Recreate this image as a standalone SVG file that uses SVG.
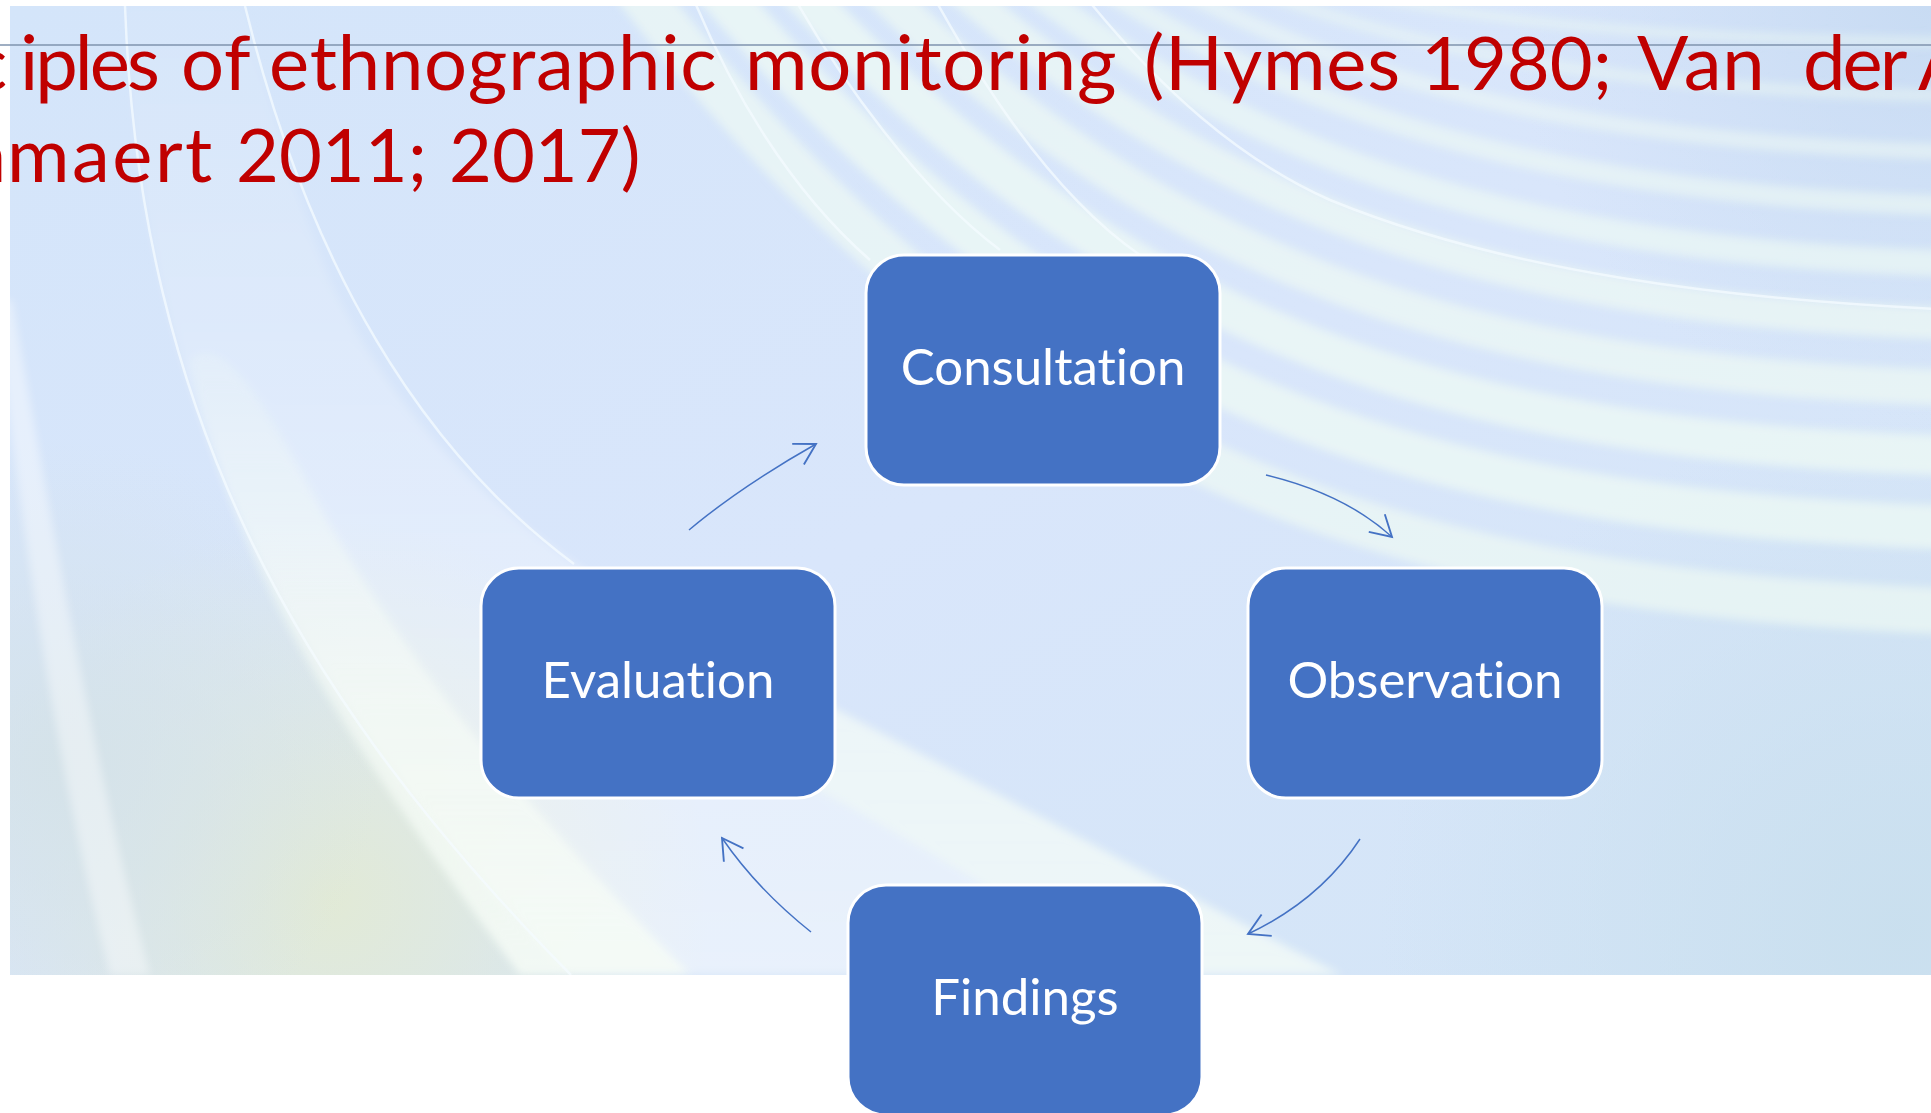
<svg xmlns="http://www.w3.org/2000/svg" width="1931" height="1113" viewBox="0 0 1931 1113">
  <defs>
    <style>
      text { font-variant-ligatures: none; font-feature-settings: "liga" 0, "clig" 0; }
      .title { font-family: Lato, "Open Sans", "Liberation Sans", sans-serif; font-size: 76px; letter-spacing: 0.8px; fill: #C00000; }
      .num { font-size: 74px; letter-spacing: 0px; }
      .tight { letter-spacing: -3px; }
      .node rect { fill: #4472C4; stroke: #FFFFFF; stroke-width: 3; }
      .node text { font-family: Lato, "Open Sans", "Liberation Sans", sans-serif; font-size: 51px; fill: #FFFFFF; text-anchor: middle; }
      .conn path { fill: none; stroke: #4472C4; stroke-width: 1.5; marker-end: url(#arrow); }
      .band { fill: none; stroke: #EEFAF4; stroke-linecap: round; }
      .thin { fill: none; stroke: #F4FBFF; stroke-width: 2.5; opacity: 0.75; }
    </style>
    <marker id="arrow" markerUnits="userSpaceOnUse" markerWidth="30" markerHeight="30" viewBox="-20 -12 22 24" refX="0" refY="0" orient="auto">
      <path d="M-16.5,-9.5 L0,0 L-16.5,9.5" fill="none" stroke="#4472C4" stroke-width="1.5"/>
    </marker>
    <linearGradient id="bgBase" x1="0" y1="0" x2="1" y2="1">
      <stop offset="0" stop-color="#D4E5FA"/>
      <stop offset="0.5" stop-color="#D9E6FB"/>
      <stop offset="1" stop-color="#D3E5F6"/>
    </linearGradient>
    <radialGradient id="greenGlow" cx="330" cy="900" r="380" gradientUnits="userSpaceOnUse">
      <stop offset="0" stop-color="#E2EAD4" stop-opacity="0.95"/>
      <stop offset="1" stop-color="#E2EAD4" stop-opacity="0"/>
    </radialGradient>
    <radialGradient id="greyGlow" cx="60" cy="760" r="320" gradientUnits="userSpaceOnUse">
      <stop offset="0" stop-color="#D4E2E8" stop-opacity="0.9"/>
      <stop offset="1" stop-color="#D4E2E8" stop-opacity="0"/>
    </radialGradient>
    <radialGradient id="rightGlow" cx="1900" cy="930" r="520" gradientUnits="userSpaceOnUse">
      <stop offset="0" stop-color="#C9DFEE" stop-opacity="0.95"/>
      <stop offset="1" stop-color="#C9DFEE" stop-opacity="0"/>
    </radialGradient>
    <radialGradient id="cornerGlow" cx="1931" cy="0" r="420" gradientUnits="userSpaceOnUse">
      <stop offset="0" stop-color="#C6DAF2" stop-opacity="0.9"/>
      <stop offset="1" stop-color="#C6DAF2" stop-opacity="0"/>
    </radialGradient>
    <linearGradient id="swooshFade" x1="0" y1="0" x2="0" y2="1">
      <stop offset="0" stop-color="#FFFFFF" stop-opacity="0.05"/>
      <stop offset="0.6" stop-color="#FFFFFF" stop-opacity="0.3"/>
      <stop offset="1" stop-color="#FFFFFF" stop-opacity="0.45"/>
    </linearGradient>
    <linearGradient id="stripFade" x1="0" y1="0" x2="0" y2="1">
      <stop offset="0" stop-color="#F6FCF6" stop-opacity="0.2"/>
      <stop offset="0.5" stop-color="#F6FCF6" stop-opacity="0.6"/>
      <stop offset="1" stop-color="#F6FCF6" stop-opacity="0.85"/>
    </linearGradient>
    <filter id="soft" x="-5%" y="-5%" width="110%" height="110%">
      <feGaussianBlur stdDeviation="4"/>
    </filter>
    <clipPath id="bgClip">
      <rect x="10" y="6" width="1921" height="969"/>
    </clipPath>
  </defs>

  <!-- page -->
  <rect width="1931" height="1113" fill="#FFFFFF"/>

  <!-- slide background -->
  <g id="background" clip-path="url(#bgClip)">
    <rect x="10" y="6" width="1921" height="969" fill="url(#bgBase)"/>
    <rect x="10" y="6" width="1921" height="969" fill="url(#greenGlow)"/>
    <rect x="10" y="6" width="1921" height="969" fill="url(#greyGlow)"/>
    <rect x="10" y="6" width="1921" height="969" fill="url(#rightGlow)"/>
    <rect x="10" y="6" width="1921" height="969" fill="url(#cornerGlow)"/>

    <g filter="url(#soft)">
      <!-- broad swoosh on the left -->
      <path d="M125,6 C140,420 300,700 571,975 L1342,975 C1100,850 900,740 700,640 C560,560 420,470 330,280 C290,180 265,90 245,6 Z" fill="url(#swooshFade)"/>
      <!-- bright strip along the inner edge -->
      <path d="M190,360 C230,560 330,720 520,975 L690,975 C520,800 400,660 300,470 C260,400 220,330 190,360 Z" fill="url(#stripFade)"/>
      <!-- lower band running under the nodes -->
      <path d="M700,640 C900,740 1100,850 1342,975 L1130,975 C980,880 860,810 760,760 Z" fill="#F2FBF4" opacity="0.55"/>
      <!-- narrow strip at the far left -->
      <path d="M-5,300 C25,560 60,780 110,975 L150,975 C98,780 58,560 12,300 Z" fill="#FFFFFF" opacity="0.4"/>

      <!-- fan of bands, upper right -->
      <path class="band" d="M1300,-20 C1490,30 1730,40 1960,42" stroke-width="10" opacity="0.5"/>
      <path class="band" d="M1230,-20 C1450,70 1710,92 1960,96" stroke-width="12" opacity="0.5"/>
      <path class="band" d="M1160,-20 C1400,110 1680,146 1960,152" stroke-width="16" opacity="0.55"/>
      <path class="band" d="M1090,-20 C1350,150 1650,198 1960,206" stroke-width="20" opacity="0.6"/>
      <path class="band" d="M1020,-20 C1300,200 1620,254 1960,264" stroke-width="26" opacity="0.65"/>
      <path class="band" d="M950,-20 C1250,250 1590,312 1960,324" stroke-width="32" opacity="0.7"/>
      <path class="band" d="M870,-20 C1200,310 1560,376 1960,388" stroke-width="36" opacity="0.7"/>
      <path class="band" d="M790,-20 C1150,370 1520,442 1960,456" stroke-width="40" opacity="0.75"/>
      <path class="band" d="M710,-20 C1090,430 1480,512 1960,528" stroke-width="44" opacity="0.75"/>
      <path class="band" d="M630,-20 C1030,500 1440,590 1960,612" stroke-width="46" opacity="0.7"/>
    </g>

    <!-- crisp highlight edges -->
    <path class="thin" d="M125,6 C140,420 300,700 571,975"/>
    <path class="thin" d="M245,6 C290,190 380,420 574,564"/>
    <path class="thin" d="M690,-10 C730,90 790,190 870,260"/>
    <path class="thin" d="M790,-10 C840,80 920,190 1000,250"/>
    <path class="thin" d="M930,-10 C990,100 1060,200 1140,255"/>
    <path class="thin" d="M1080,-10 C1160,90 1240,160 1330,200 C1500,270 1720,300 1960,310" opacity="0.5"/>
  </g>

  <!-- title rule -->
  <line x1="0" y1="45" x2="1931" y2="45" stroke="#7F93AE" stroke-width="1.5"/>

  <!-- title -->
  <g id="title">
    <text class="title" y="90"><tspan x="8" text-anchor="end">c</tspan><tspan class="tight" x="20">iples </tspan><tspan x="181">of </tspan><tspan x="269">ethnographic </tspan><tspan x="745">monitoring </tspan><tspan x="1144">(Hymes </tspan><tspan class="num" x="1421">1980; </tspan><tspan x="1637">Van </tspan><tspan class="tight" x="1803">der </tspan><tspan x="1918">A</tspan></text>
    <text class="title" y="182"><tspan x="7" text-anchor="end">m</tspan><tspan x="7" letter-spacing="2.5">maert </tspan><tspan class="num" x="236">2011; </tspan><tspan class="num" x="449">2017)</tspan></text>
  </g>

  <!-- connectors -->
  <g id="connectors" class="conn">
    <path id="evaluation-consultation" d="M689,530 Q740,487 816,444"/>
    <path id="consultation-observation" d="M1266,475 Q1345,494 1392,537"/>
    <path id="observation-findings" d="M1360,839 Q1320,900 1248,934"/>
    <path id="findings-evaluation" d="M811,932 Q757,889 722,838"/>
  </g>

  <!-- nodes -->
  <g id="consultation" class="node">
    <rect x="866" y="255" width="354" height="230" rx="38" ry="38"/>
    <text x="1043" y="385">Consultation</text>
  </g>
  <g id="evaluation" class="node">
    <rect x="481" y="568" width="354" height="230" rx="38" ry="38"/>
    <text x="658" y="698">Evaluation</text>
  </g>
  <g id="observation" class="node">
    <rect x="1248" y="568" width="354" height="230" rx="38" ry="38"/>
    <text x="1425" y="698">Observation</text>
  </g>
  <g id="findings" class="node">
    <rect x="848" y="885" width="354" height="230" rx="38" ry="38"/>
    <text x="1025" y="1015">Findings</text>
  </g>
</svg>
